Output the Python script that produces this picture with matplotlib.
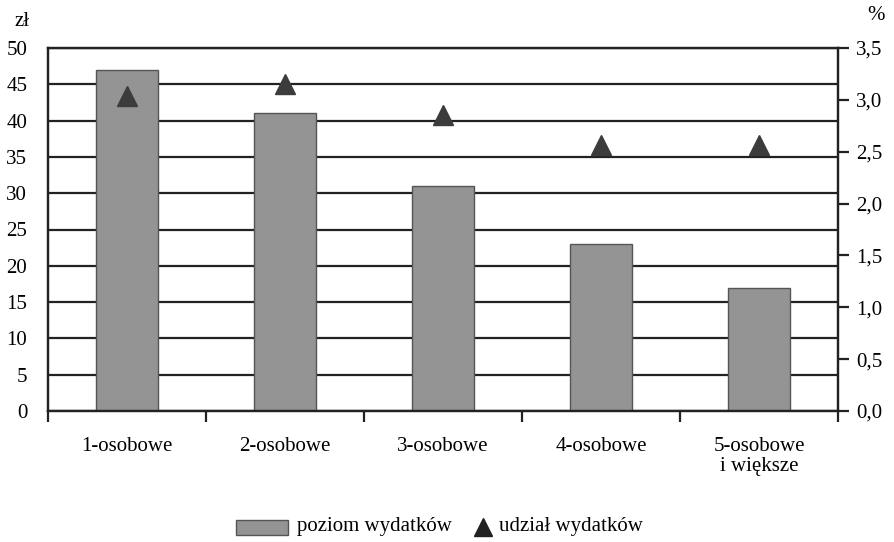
import matplotlib
matplotlib.use("Agg")
import matplotlib.pyplot as plt
import numpy as np
from matplotlib.patches import Rectangle
from matplotlib.lines import Line2D

plt.rcParams['font.family'] = ['Liberation Serif', 'DejaVu Serif']

categories = ["1-osobowe", "2-osobowe", "3-osobowe", "4-osobowe", "5-osobowe\ni większe"]
poziom = [47, 41, 31, 23, 17]
udzial = [3.04, 3.15, 2.85, 2.56, 2.56]
left_ticks = [0, 5, 10, 15, 20, 25, 30, 35, 40, 45, 50]
right_ticks = [0.0, 0.5, 1.0, 1.5, 2.0, 2.5, 3.0, 3.5]
right_labels = ["0,0", "0,5", "1,0", "1,5", "2,0", "2,5", "3,0", "3,5"]

FS = 15
W, H = 894, 542
fig = plt.figure(figsize=(W/100, H/100), dpi=100)
ax = fig.add_axes([48/W, 1-411/H, 790/W, 363/H])
x = np.arange(len(categories))

for t in left_ticks:
    ax.axhline(t, color='#222222', lw=1.6, zorder=0.5)
ax.bar(x, poziom, width=0.39, color='#949494', edgecolor='#555555', linewidth=1.0, zorder=2)
ax.set_xlim(-0.5, 4.5)
ax.set_ylim(0, 50)
ax.set_yticks(left_ticks)
ax.tick_params(axis='y', length=0, labelsize=FS, pad=15)
ax.set_xticks(np.arange(-0.5, 5, 1))
ax.set_xticklabels([])
ax.set_xticks(x, minor=True)
ax.set_xticklabels(categories, minor=True, fontsize=FS)
ax.tick_params(axis='x', which='major', length=8, width=1.6, color='#222222', direction='out')
ax.tick_params(axis='x', which='minor', length=0, pad=19)
for lab in ax.get_xticklabels(minor=True):
    lab.set_linespacing(1.05)
for s in ax.spines.values():
    s.set_linewidth(1.6)
    s.set_color('#222222')

ax2 = ax.twinx()
ax2.plot(x, udzial, linestyle='none', marker='^', markersize=14, color='#3c3c3c',
         markeredgecolor='#3c3c3c', zorder=3)
ax2.set_ylim(0, 3.5)
ax2.set_yticks(right_ticks)
ax2.set_yticklabels(right_labels)
ax2.tick_params(axis='y', length=8, width=1.6, color='#222222', labelsize=FS, pad=5)
for s in ax2.spines.values():
    s.set_linewidth(1.6)
    s.set_color('#222222')

fig.text(22/W, 1-22/H, "zł", fontsize=FS, ha='center', va='center')
fig.text(876/W, 1-15/H, "%", fontsize=FS, ha='center', va='center')

# legend (manual placement)
fig.add_artist(Rectangle((236/W, 1-535/H), 52/W, 15/H, transform=fig.transFigure,
                         facecolor='#949494', edgecolor='#555555', linewidth=1.0))
fig.text(297/W, 1-527/H, "poziom wydatków", fontsize=FS, ha='left', va='center')
fig.add_artist(Line2D([483.5/W], [1-527/H], transform=fig.transFigure, linestyle='none',
                      marker='^', markersize=13, color='#222222'))
fig.text(499/W, 1-527/H, "udział wydatków", fontsize=FS, ha='left', va='center')

fig.savefig("out.png", dpi=100)
